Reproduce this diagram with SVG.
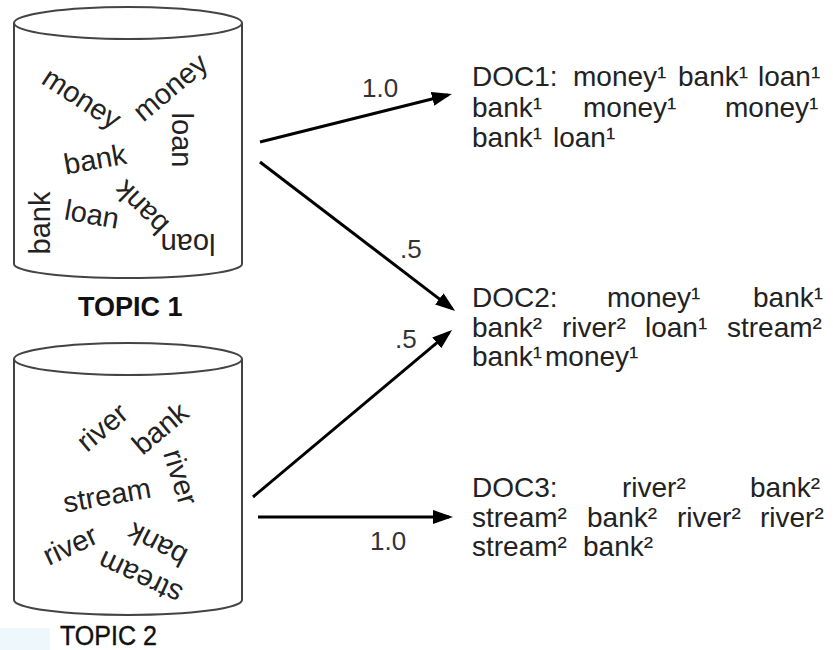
<svg xmlns="http://www.w3.org/2000/svg" width="833" height="650" viewBox="0 0 833 650">
<style>
.cyl{fill:none;stroke:#444;stroke-width:2}
.w{font-family:"Liberation Sans",Arial,sans-serif;font-size:29px;fill:#222;text-anchor:middle}
.doc{font-family:"Liberation Sans",Arial,sans-serif;font-size:28px;fill:#222}
.lbl{font-family:"Liberation Sans",Arial,sans-serif;font-size:26px;fill:#333}
.topic{font-family:"Liberation Sans",Arial,sans-serif;font-size:27px;fill:#111}
.arr{stroke:#000;stroke-width:3;fill:none;marker-end:url(#ah)}
</style>
<defs>
<marker id="ah" viewBox="0 0 20 14" refX="16" refY="7" markerWidth="20" markerHeight="14" markerUnits="userSpaceOnUse" orient="auto">
<path d="M0,0 L20,7 L0,14 z" fill="#000"/>
</marker>
</defs>
<rect width="833" height="650" fill="#fff"/>
<rect x="0" y="628" width="50" height="22" fill="#eef8fc"/>

<g id="topic1">
<ellipse class="cyl" cx="128" cy="23" rx="114" ry="16"/>
<path class="cyl" d="M14,23 V264 A114,14 0 0 0 242,264 V23"/>
<text class="w" transform="translate(82,98) rotate(33)" dy="0.35em">money</text>
<text class="w" transform="translate(170,87) rotate(-40)" dy="0.35em">money</text>
<text class="w" transform="translate(182,140) rotate(90)" dy="0.35em">loan</text>
<text class="w" transform="translate(95,159) rotate(-10)" dy="0.35em">bank</text>
<text class="w" transform="translate(40,223) rotate(-90)" dy="0.35em">bank</text>
<text class="w" transform="translate(92,214) rotate(10)" dy="0.35em">loan</text>
<text class="w" transform="translate(141,208) rotate(-135)" dy="0.35em">bank</text>
<text class="w" transform="translate(188,244) rotate(180)" dy="0.35em">loan</text>
<text class="topic" x="78" y="316" font-weight="bold">TOPIC 1</text>
</g>

<g id="topic2">
<ellipse class="cyl" cx="128" cy="359" rx="114" ry="16"/>
<path class="cyl" d="M14,359 V600 A114,15 0 0 0 242,600 V359"/>
<text class="w" transform="translate(102,427) rotate(-40)" dy="0.35em">river</text>
<text class="w" transform="translate(160,428) rotate(-40)" dy="0.35em">bank</text>
<text class="w" transform="translate(181,477) rotate(73)" dy="0.35em">river</text>
<text class="w" transform="translate(107,495) rotate(-10)" dy="0.35em">stream</text>
<text class="w" transform="translate(70,545) rotate(-25)" dy="0.35em">river</text>
<text class="w" transform="translate(157,545) rotate(-153)" dy="0.35em">bank</text>
<text class="w" transform="translate(140,578) rotate(-155)" dy="0.35em">stream</text>
<text class="topic" x="60" y="645" font-size="26" textLength="97" lengthAdjust="spacingAndGlyphs" stroke="#111" stroke-width="0.4">TOPIC 2</text>
</g>

<g id="doc1">
<text class="doc" y="86"><tspan x="472">DOC1:</tspan><tspan x="573">money¹</tspan><tspan x="678">bank¹</tspan><tspan x="758">loan¹</tspan></text>
<text class="doc" y="117"><tspan x="472">bank¹</tspan><tspan x="583">money¹</tspan><tspan x="725">money¹</tspan></text>
<text class="doc" y="147"><tspan x="472">bank¹</tspan><tspan x="553">loan¹</tspan></text>
</g>

<g id="doc2">
<text class="doc" y="307"><tspan x="472">DOC2:</tspan><tspan x="607">money¹</tspan><tspan x="753">bank¹</tspan></text>
<text class="doc" y="337"><tspan x="472">bank²</tspan><tspan x="562">river²</tspan><tspan x="645">loan¹</tspan><tspan x="727">stream²</tspan></text>
<text class="doc" y="366"><tspan x="472">bank¹</tspan><tspan x="545">money¹</tspan></text>
</g>

<g id="doc3">
<text class="doc" y="497"><tspan x="472">DOC3:</tspan><tspan x="622">river²</tspan><tspan x="750">bank²</tspan></text>
<text class="doc" y="527"><tspan x="472">stream²</tspan><tspan x="587">bank²</tspan><tspan x="677">river²</tspan><tspan x="760">river²</tspan></text>
<text class="doc" y="556"><tspan x="472">stream²</tspan><tspan x="583">bank²</tspan></text>
</g>

<g id="connectors">
<line class="arr" x1="260" y1="142" x2="448" y2="95"/>
<line class="arr" x1="260" y1="162" x2="452" y2="308.6"/>
<line class="arr" x1="253" y1="497" x2="449" y2="332.6"/>
<line class="arr" x1="258" y1="517" x2="449" y2="517"/>
<text class="lbl" x="362" y="97">1.0</text>
<text class="lbl" x="400" y="258">.5</text>
<text class="lbl" x="395" y="348">.5</text>
<text class="lbl" x="370" y="550">1.0</text>
</g>
</svg>
